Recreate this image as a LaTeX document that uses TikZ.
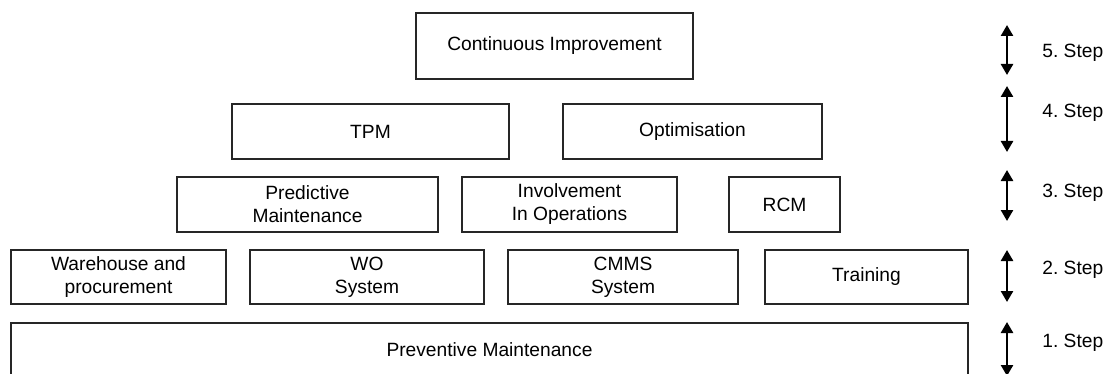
\documentclass[tikz,border=0pt]{standalone}
\usepackage{fontspec}
\setmainfont{Liberation Sans}
\usetikzlibrary{arrows.meta}
% box from corner (x1,y1) to corner (x2,y2), in pixel units
\newcommand\mkbox[6]{%
  \node[blk, minimum width={(#4-#2)*0.5pt}, minimum height={(#5-#3)*0.5pt}]
    (#1) at ({(#2+#4)/2},{(#3+#5)/2}) {#6};}
\begin{document}
\begin{tikzpicture}[x=0.5pt,y=-0.5pt,
  txt/.style={font=\fontsize{9.6}{11.5}\selectfont\frenchspacing},
  blk/.style={draw=black!85, line width=1pt, align=center, inner sep=0pt, txt},
  lvl/.style={line width=1.25pt, {Triangle[width=6pt,length=5.5pt]}-{Triangle[width=6pt,length=5.5pt]}},
  lbl/.style={anchor=west, inner sep=0pt, txt}]
\useasboundingbox (0,0) rectangle (1114,374);
\clip (0,0) rectangle (1114,374);

% level 5
\mkbox{ci}{416}{13}{693}{79}{Continuous Improvement}
% level 4
\mkbox{tpm}{232}{104}{509}{159}{TPM}
\mkbox{opt}{563}{104}{822}{159}{Optimisation}
% level 3
\mkbox{pdm}{177}{177}{438}{232}{Predictive\\Maintenance}
\mkbox{inv}{462}{177}{677}{232}{Involvement\\In Operations}
\mkbox{rcm}{729}{177}{840}{232}{RCM}
% level 2
\mkbox{wh}{11}{250}{226}{304}{Warehouse and\\procurement}
\mkbox{wo}{250}{250}{484}{304}{WO\\System}
\mkbox{cmms}{508}{250}{738}{304}{CMMS\\System}
\mkbox{trn}{765}{250}{968}{304}{Training}
% level 1
\mkbox{pm}{11}{323}{968}{377}{Preventive Maintenance}

% step markers
\coordinate (a5t) at (1007,25);  \coordinate (a5b) at (1007,75);
\coordinate (a4t) at (1007,86);  \coordinate (a4b) at (1007,152);
\coordinate (a3t) at (1007,170); \coordinate (a3b) at (1007,221);
\coordinate (a2t) at (1007,250); \coordinate (a2b) at (1007,302);
\coordinate (a1t) at (1007,322); \coordinate (a1b) at (1007,376);
\draw[lvl] (a5t) -- (a5b);
\draw[lvl] (a4t) -- (a4b);
\draw[lvl] (a3t) -- (a3b);
\draw[lvl] (a2t) -- (a2b);
\draw[lvl] (a1t) -- (a1b);

\node[lbl] (s5) at (1042,53)  {5. Step};
\node[lbl] (s4) at (1042,113) {4. Step};
\node[lbl] (s3) at (1042,193) {3. Step};
\node[lbl] (s2) at (1042,270) {2. Step};
\node[lbl] (s1) at (1042,343) {1. Step};
\end{tikzpicture}
\end{document}
